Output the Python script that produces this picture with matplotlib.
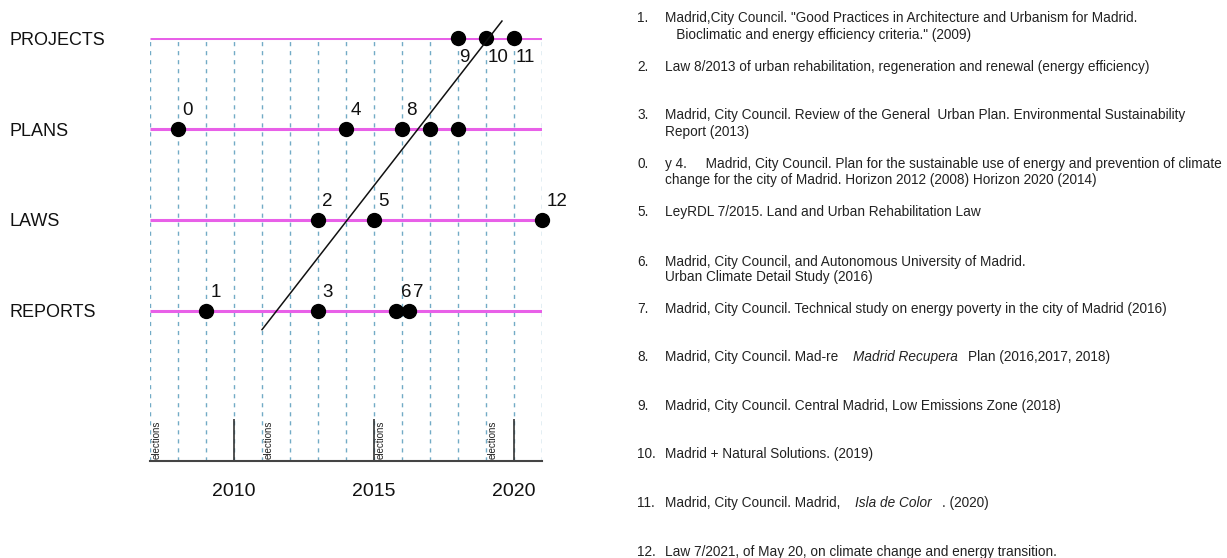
import matplotlib
matplotlib.use("Agg")
import matplotlib.pyplot as plt

plt.rcParams['font.family'] = ['Liberation Sans', 'DejaVu Sans']

# rows of the timeline
row_names = ["REPORTS", "LAWS", "PLANS", "PROJECTS"]
row_levels = [1, 2, 3, 4]

# events: label, year, row level
event_labels = ["0", "4", "8", "", "", "9", "10", "11", "2", "5", "12", "1", "3", "6", "7"]
event_years = [2008, 2014, 2016, 2017, 2018, 2018, 2019, 2020, 2013, 2015, 2021, 2009, 2013, 2015.8, 2016.25]
event_rows = [3, 3, 3, 3, 3, 4, 4, 4, 2, 2, 2, 1, 1, 1, 1]

# trend line drawn across the chart
trend_x = [2011.0, 2019.57]
trend_y = [0.79, 4.19]

election_years = [2007, 2011, 2015, 2019]
year_ticks = [2010, 2015, 2020]

notes_num = ["1.", "", "2.", "3.", "", "0.", "", "5.", "6.", "", "7.", "8.", "9.", "10.", "11.", "12."]
notes_text = [
    "Madrid,City Council. \"Good Practices in Architecture and Urbanism for Madrid.",
    "   Bioclimatic and energy efficiency criteria.\" (2009)",
    "Law 8/2013 of urban rehabilitation, regeneration and renewal (energy efficiency)",
    "Madrid, City Council. Review of the General  Urban Plan. Environmental Sustainability",
    "Report (2013)",
    "y 4.     Madrid, City Council. Plan for the sustainable use of energy and prevention of climate",
    "change for the city of Madrid. Horizon 2012 (2008) Horizon 2020 (2014)",
    "LeyRDL 7/2015. Land and Urban Rehabilitation Law",
    "Madrid, City Council, and Autonomous University of Madrid.",
    "Urban Climate Detail Study (2016)",
    "Madrid, City Council. Technical study on energy poverty in the city of Madrid (2016)",
    "Madrid, City Council. Mad-re",
    "Madrid, City Council. Central Madrid, Low Emissions Zone (2018)",
    "Madrid + Natural Solutions. (2019)",
    "Madrid, City Council. Madrid,",
    "Law 7/2021, of May 20, on climate change and energy transition.",
]
# italic pieces following some notes: (note index, italic text, tail text)
notes_italic = [(11, "Madrid Recupera", "Plan (2016,2017, 2018)"),
                (14, "Isla de Color", ". (2020)")]
notes_ypx = [18, 35, 67, 115, 132, 164, 180, 212, 262, 277, 309, 357, 406, 454, 503, 552]

W, H = 1227, 558
fig = plt.figure(figsize=(W / 100, H / 100), dpi=100)
ax = fig.add_axes([150 / W, 1 - 461 / H, 392 / W, (461 - 38.3) / H])

ax.set_xlim(2007, 2021)
ax.set_ylim(-0.657, 4)

# dashed year grid
ax.set_xticks(year_ticks)
ax.set_xticks(range(2007, 2022), minor=True)
ax.grid(which='both', axis='x', color='#72abc6', linestyle=(0, (3, 3.5)), linewidth=1.0, zorder=0)
ax.tick_params(axis='x', which='major', direction='in', length=30, width=1.2, color='#333333',
               labelsize=14, pad=16, labelcolor='#111111')
ax.tick_params(axis='x', which='minor', length=0)

ax.hlines(row_levels, 2007, 2021, color='#e860e8', linewidth=2.2, zorder=2)

ax.set_yticks(row_levels, row_names)
ax.tick_params(axis='y', length=0, labelsize=13, pad=101, labelcolor='#111111')
for lab in ax.get_yticklabels():
    lab.set_horizontalalignment('left')

for s in ['top', 'left', 'right']:
    ax.spines[s].set_visible(False)
ax.spines['bottom'].set_color('#444444')
ax.spines['bottom'].set_linewidth(1.5)

ax.plot(event_years, event_rows, 'o', color='black', markersize=10, clip_on=False, zorder=3)
ax.plot(trend_x, trend_y, color='#111111', linewidth=1.1, clip_on=False, zorder=4)

for lab, yr, rw in zip(event_labels, event_years, event_rows):
    if not lab:
        continue
    if rw == 4:
        ax.annotate(lab, (yr, rw), xytext=(1, -8), textcoords='offset points',
                    ha='left', va='top', fontsize=13.5, color='#111111')
    else:
        ax.annotate(lab, (yr, rw), xytext=(3, 7), textcoords='offset points',
                    ha='left', va='bottom', fontsize=13.5, color='#111111')

for yr in election_years:
    ax.text(yr + 0.07, -0.64, "elections", rotation=90, ha='left', va='bottom',
            fontsize=7, color='#222222')

# numbered notes on the right
note_font = dict(fontsize=9.8, color='#222222', va='center')
renderer = fig.canvas.get_renderer()
note_objs = []
for num, txt, ypx in zip(notes_num, notes_text, notes_ypx):
    y = 1 - ypx / H
    if num:
        fig.text(637 / W, y, num, **note_font)
    note_objs.append(fig.text(665 / W, y, txt, **note_font))

for idx, ital, tail in notes_italic:
    t = note_objs[idx]
    bb = t.get_window_extent(renderer)
    y = 1 - notes_ypx[idx] / H
    it = fig.text((bb.x1 + 15) / W, y, ital, style='italic', **note_font)
    bb2 = it.get_window_extent(renderer)
    fig.text((bb2.x1 + 10) / W, y, tail, **note_font)

fig.savefig("out.png", dpi=100)
